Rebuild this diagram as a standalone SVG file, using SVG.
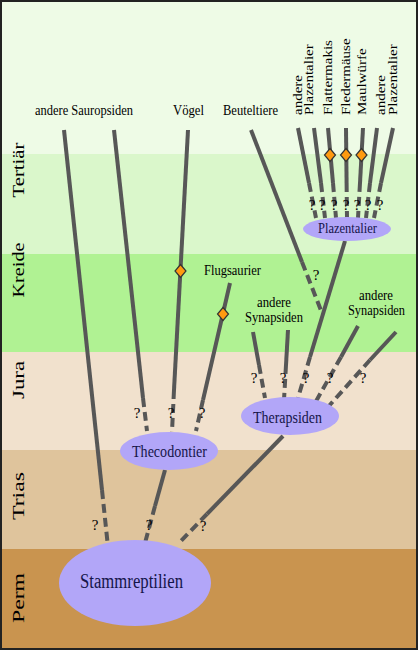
<svg xmlns="http://www.w3.org/2000/svg" width="418" height="650" viewBox="0 0 418 650">
<style>
text{font-family:"Liberation Serif","DejaVu Serif",serif}
.ln{stroke:#575757;stroke-width:4;fill:none}
.dl{stroke:#575757;stroke-width:4;fill:none;stroke-dasharray:9 5}
.nd{fill:#b2a6f8}
.nt{fill:#15154a}
.lb{font-size:15px;fill:#000}
.pd{font-size:20px;fill:#000;text-anchor:middle}
.q{font-size:15px;fill:#000;text-anchor:middle}
.dia{fill:#ff9a10;stroke:#333;stroke-width:1.2}
</style>
<defs>
<polygon id="dm" class="dia" points="0,-6.5 5.5,0 0,6.5 -5.5,0"/>
</defs>
<g id="bands">
<rect x="0" y="0" width="418" height="154" fill="#eefbe6"/>
<rect x="0" y="154" width="418" height="100" fill="#daf7cb"/>
<rect x="0" y="254" width="418" height="98" fill="#b0f293"/>
<rect x="0" y="352" width="418" height="98" fill="#f1e1cd"/>
<rect x="0" y="450" width="418" height="99" fill="#dfc49c"/>
<rect x="0" y="549" width="418" height="101" fill="#c9944f"/>
<rect x="1" y="1" width="416" height="648" fill="none" stroke="#222" stroke-width="2"/>
</g>
<g id="periods" font-family="Liberation Serif, DejaVu Serif, serif">
<text class="pd" transform="translate(24,170) scale(0.83,1) rotate(-90)" textLength="55" lengthAdjust="spacingAndGlyphs">Tertiär</text>
<text class="pd" transform="translate(24,270) scale(0.83,1) rotate(-90)" textLength="55" lengthAdjust="spacingAndGlyphs">Kreide</text>
<text class="pd" transform="translate(24,380) scale(0.83,1) rotate(-90)" textLength="38" lengthAdjust="spacingAndGlyphs">Jura</text>
<text class="pd" transform="translate(24,496) scale(0.83,1) rotate(-90)" textLength="48" lengthAdjust="spacingAndGlyphs">Trias</text>
<text class="pd" transform="translate(24,598) scale(0.83,1) rotate(-90)" textLength="50" lengthAdjust="spacingAndGlyphs">Perm</text>
</g>
<g id="connectors">
<line class="ln" x1="64" y1="130" x2="102" y2="490"/><line class="dl" x1="102" y1="490" x2="108" y2="547"/>
<line class="ln" x1="114" y1="130" x2="143" y2="398"/><line class="dl" x1="143" y1="398" x2="147" y2="431"/>
<line class="ln" x1="188" y1="130" x2="174" y2="390"/><line class="dl" x1="174" y1="390" x2="172" y2="432"/>
<line class="ln" x1="230" y1="283" x2="203" y2="400"/><line class="dl" x1="203" y1="400" x2="196" y2="431"/>
<line class="ln" x1="165" y1="470" x2="155" y2="506"/><line class="dl" x1="155" y1="506" x2="145" y2="543"/>
<line class="ln" x1="283" y1="436" x2="207" y2="514"/><line class="dl" x1="207" y1="514" x2="178" y2="544"/>
<line class="ln" x1="251" y1="130" x2="302" y2="262"/><line class="dl" x1="302" y1="262" x2="322" y2="313"/>
<line class="ln" x1="345" y1="241" x2="310" y2="357"/><line class="dl" x1="310" y1="357" x2="298" y2="398"/>
<line class="ln" x1="253" y1="332" x2="259" y2="365"/><line class="dl" x1="259" y1="365" x2="265" y2="398"/>
<line class="ln" x1="288" y1="330" x2="286" y2="365"/><line class="dl" x1="286" y1="365" x2="284" y2="400"/>
<line class="ln" x1="358" y1="326" x2="341" y2="357"/><line class="dl" x1="341" y1="357" x2="315" y2="403"/>
<line class="ln" x1="396" y1="332" x2="370" y2="360"/><line class="dl" x1="370" y1="360" x2="328" y2="407"/>
<line class="ln" x1="298" y1="128" x2="309" y2="183"/><line class="dl" x1="309" y1="183" x2="316" y2="218"/>
<line class="ln" x1="314" y1="128" x2="321" y2="183"/><line class="dl" x1="321" y1="183" x2="325" y2="218"/>
<line class="ln" x1="328" y1="128" x2="333" y2="183"/><line class="dl" x1="333" y1="183" x2="336" y2="218"/>
<line class="ln" x1="346" y1="128" x2="346.6" y2="183"/><line class="dl" x1="346.6" y1="183" x2="347" y2="218"/>
<line class="ln" x1="363" y1="128" x2="360" y2="183"/><line class="dl" x1="360" y1="183" x2="358" y2="218"/>
<line class="ln" x1="377" y1="128" x2="370" y2="183"/><line class="dl" x1="370" y1="183" x2="366" y2="218"/>
<line class="ln" x1="393" y1="128" x2="381" y2="183"/><line class="dl" x1="381" y1="183" x2="374" y2="218"/>
<use href="#dm" x="180.5" y="271"/>
<use href="#dm" x="223" y="314"/>
<use href="#dm" x="330" y="155"/>
<use href="#dm" x="346" y="155"/>
<use href="#dm" x="361.5" y="155"/>
<g id="qmarks" fill="#000">
<text class="q" x="95" y="530">?</text>
<text class="q" x="149" y="530">?</text>
<text class="q" x="203" y="531">?</text>
<text class="q" x="137" y="418">?</text>
<text class="q" x="171" y="418">?</text>
<text class="q" x="202" y="418">?</text>
<text class="q" x="254" y="383">?</text>
<text class="q" x="283" y="383">?</text>
<text class="q" x="306" y="383">?</text>
<text class="q" x="330" y="383">?</text>
<text class="q" x="363" y="383">?</text>
<text class="q" x="316" y="280">?</text>
<text class="q" x="312" y="210">?</text>
<text class="q" x="322" y="210">?</text>
<text class="q" x="334" y="210">?</text>
<text class="q" x="346" y="210">?</text>
<text class="q" x="357" y="210">?</text>
<text class="q" x="368" y="210">?</text>
<text class="q" x="380" y="210">?</text>
</g>
</g>
<g id="stammreptilien"><ellipse class="nd" cx="135" cy="583" rx="76" ry="43"/><text class="nt" x="80" y="588" font-size="20" textLength="103" lengthAdjust="spacingAndGlyphs">Stammreptilien</text></g>
<g id="thecodontier"><ellipse class="nd" cx="169" cy="451" rx="49" ry="19"/><text class="nt" x="132" y="457" font-size="17" textLength="75" lengthAdjust="spacingAndGlyphs">Thecodontier</text></g>
<g id="therapsiden"><ellipse class="nd" cx="290" cy="416" rx="49" ry="19"/><text class="nt" x="253" y="423" font-size="17" textLength="69" lengthAdjust="spacingAndGlyphs">Therapsiden</text></g>
<g id="plazentalier"><ellipse class="nd" cx="347" cy="229" rx="44" ry="12"/><text class="nt" x="318" y="233" font-size="15" textLength="59" lengthAdjust="spacingAndGlyphs">Plazentalier</text></g>
<g id="andere-sauropsiden"><text class="lb" x="35" y="115" textLength="98" lengthAdjust="spacingAndGlyphs">andere Sauropsiden</text></g>
<g id="voegel"><text class="lb" x="173" y="115" textLength="31" lengthAdjust="spacingAndGlyphs">Vögel</text></g>
<g id="beuteltiere"><text class="lb" x="223" y="115" textLength="55" lengthAdjust="spacingAndGlyphs">Beuteltiere</text></g>
<g id="flugsaurier"><text class="lb" x="204" y="275" textLength="57" lengthAdjust="spacingAndGlyphs">Flugsaurier</text></g>
<g id="andere-synapsiden-1"><text class="lb" x="257" y="307" textLength="34" lengthAdjust="spacingAndGlyphs">andere</text><text class="lb" x="245" y="322" textLength="58" lengthAdjust="spacingAndGlyphs">Synapsiden</text></g>
<g id="andere-synapsiden-2"><text class="lb" x="359" y="300" textLength="34" lengthAdjust="spacingAndGlyphs">andere</text><text class="lb" x="348" y="315" textLength="57" lengthAdjust="spacingAndGlyphs">Synapsiden</text></g>
<g id="andere-plazentalier-1"><text class="lb" transform="translate(302,115) scale(0.83,1) rotate(-90)">andere</text><text class="lb" transform="translate(313,115) scale(0.83,1) rotate(-90)">Plazentalier</text></g>
<g id="flattermakis"><text class="lb" transform="translate(332,115) scale(0.83,1) rotate(-90)">Flattermakis</text></g>
<g id="fledermaeuse"><text class="lb" transform="translate(350,115) scale(0.83,1) rotate(-90)">Fledermäuse</text></g>
<g id="maulwuerfe"><text class="lb" transform="translate(366,115) scale(0.83,1) rotate(-90)">Maulwürfe</text></g>
<g id="andere-plazentalier-2"><text class="lb" transform="translate(385,115) scale(0.83,1) rotate(-90)">andere</text><text class="lb" transform="translate(397,115) scale(0.83,1) rotate(-90)">Plazentalier</text></g>
</svg>
